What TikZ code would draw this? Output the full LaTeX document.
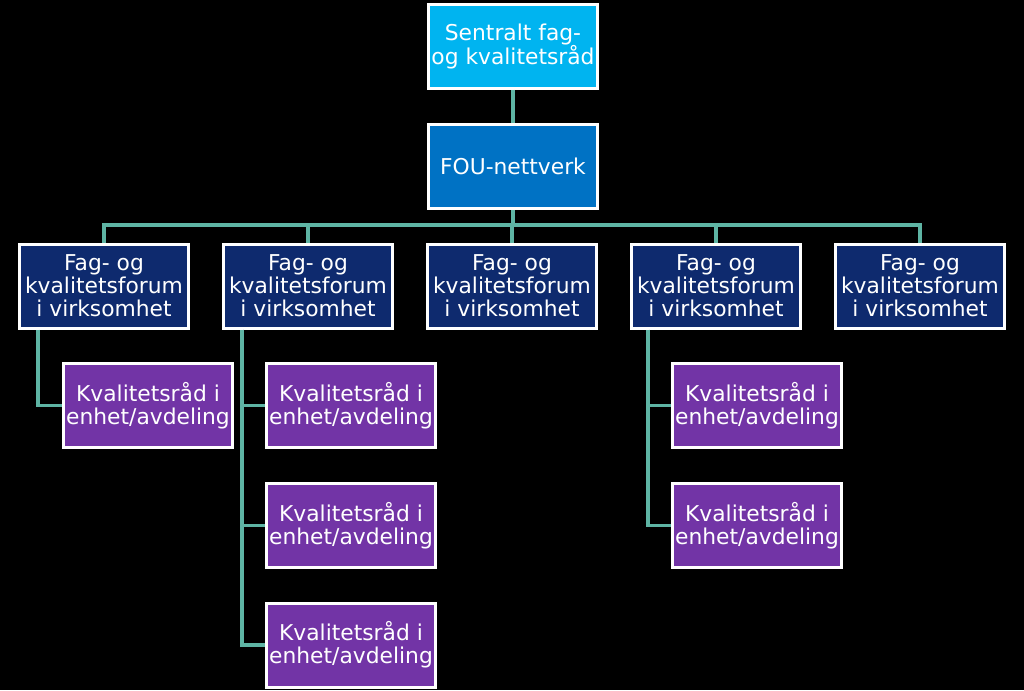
\documentclass[tikz,border=0pt]{standalone}
\usepackage{fontspec}
\setmainfont{DejaVu Sans}
\definecolor{topc}{HTML}{00B4F0}
\definecolor{fouc}{HTML}{0072C4}
\definecolor{navy}{HTML}{0E2A6E}
\definecolor{purp}{HTML}{7234A6}
\definecolor{teal}{HTML}{5EB4A4}
\tikzset{
  box/.style={draw=white, line width=3pt, minimum width=169pt, minimum height=84pt,
    inner sep=0pt, align=center, text=white,
    font=\fontsize{21.8}{23.2}\selectfont},
  topbox/.style={box, fill=topc},
  foubox/.style={box, fill=fouc},
  fagbox/.style={box, fill=navy},
  kbox/.style={box, fill=purp},
  conn/.style={draw=teal, line width=3.2pt}
}
\begin{document}
\begin{tikzpicture}[x=1pt,y=-1pt]
\fill[black] (0,0) rectangle (1024,690);
\useasboundingbox (0,0) rectangle (1024,690);
\coordinate (bus) at (513,225);
\node[topbox] (top) at (513,46.5) {Sentralt fag-\\og kvalitetsråd};
\node[foubox] (fou) at (513,166.5) {FOU-nettverk};
\foreach \n/\x in {f1/104,f2/308,f3/512,f4/716,f5/920}{
  \node[fagbox] (\n) at (\x,286) {Fag- og\\kvalitetsforum\\i virksomhet};
}
\node[kbox] (k1) at (148,405.5) {Kvalitetsråd i\\enhet/avdeling};
\node[kbox] (k2) at (351,405.5) {Kvalitetsråd i\\enhet/avdeling};
\node[kbox] (k3) at (351,525.5) {Kvalitetsråd i\\enhet/avdeling};
\node[kbox] (k4) at (351,645) {Kvalitetsråd i\\enhet/avdeling};
\node[kbox] (k5) at (757,405.5) {Kvalitetsråd i\\enhet/avdeling};
\node[kbox] (k6) at (757,525.5) {Kvalitetsråd i\\enhet/avdeling};
\draw[conn] (top.south) -- (fou.north);
\foreach \n in {f1,f2,f3,f4,f5}{
  \draw[conn] (fou.south) -- (bus) -| (\n.north);
}
\draw[conn] ([xshift=20pt]f1.south west) |- (k1.west);
\draw[conn] ([xshift=20pt]f2.south west) |- (k2.west);
\draw[conn] ([xshift=20pt]f2.south west) |- (k3.west);
\draw[conn] ([xshift=20pt]f2.south west) |- (k4.west);
\draw[conn] ([xshift=18pt]f4.south west) |- (k5.west);
\draw[conn] ([xshift=18pt]f4.south west) |- (k6.west);
\end{tikzpicture}
\end{document}
